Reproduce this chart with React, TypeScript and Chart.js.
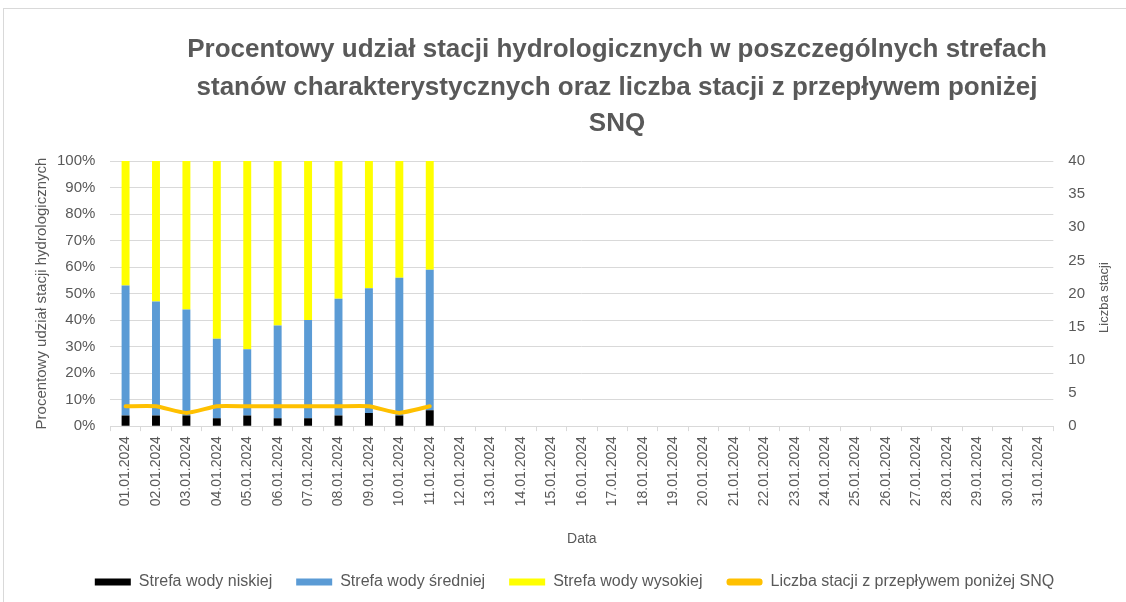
import React, { useEffect, useRef } from "react";
import { Chart, registerables } from "chart.js";

Chart.register(...registerables);

const titleLines = [
  "Procentowy udział stacji hydrologicznych w poszczególnych strefach",
  "stanów charakterystycznych oraz liczba stacji z przepływem poniżej",
  "SNQ",
];

const dates = [
  "01.01.2024", "02.01.2024", "03.01.2024", "04.01.2024", "05.01.2024",
  "06.01.2024", "07.01.2024", "08.01.2024", "09.01.2024", "10.01.2024",
  "11.01.2024", "12.01.2024", "13.01.2024", "14.01.2024", "15.01.2024",
  "16.01.2024", "17.01.2024", "18.01.2024", "19.01.2024", "20.01.2024",
  "21.01.2024", "22.01.2024", "23.01.2024", "24.01.2024", "25.01.2024",
  "26.01.2024", "27.01.2024", "28.01.2024", "29.01.2024", "30.01.2024",
  "31.01.2024",
];

// percentages (stacked)
const lowZone = [4, 4, 4, 3, 4, 3, 3, 4, 5, 4, 6];
const midZone = [49, 43, 40, 30, 25, 35, 37, 44, 47, 52, 53];
const highZone = [47, 53, 56, 67, 71, 62, 60, 52, 48, 44, 41];
// number of stations below SNQ
const belowSNQ = [3, 3, 2, 3, 3, 3, 3, 3, 3, 2, 3];

const TEXT = "#595959";
const GRID = "#d9d9d9";
const FONT = "'Liberation Sans', Arial, sans-serif";

const titlePlugin = {
  id: "customTexts",
  beforeDraw(chart: any) {
    // nudge the legend so it is centred like in the reference
    const lg = chart.legend;
    if (lg && !lg._shifted) {
      lg.left += 8;
      lg.right += 8;
      lg._shifted = true;
    }
  },
  afterDraw(chart: any) {
    const ctx = chart.ctx;
    ctx.save();
    ctx.fillStyle = TEXT;
    ctx.font = `bold 26px ${FONT}`;
    ctx.textAlign = "center";
    ctx.textBaseline = "middle";
    const ys = [50, 88, 124];
    titleLines.forEach((t, i) => ctx.fillText(t, 617, ys[i]));
    // right axis title, reading bottom-to-top
    const area = chart.chartArea;
    ctx.font = `13px ${FONT}`;
    ctx.translate(1104, (area.top + area.bottom) / 2 + 4);
    ctx.rotate(-Math.PI / 2);
    ctx.fillText("Liczba stacji", 0, 0);
    ctx.restore();
  },
};

export default function App() {
  const ref = useRef<HTMLCanvasElement>(null);
  useEffect(() => {
    if (!ref.current) return;
    const chart = new Chart(ref.current, {
      type: "bar",
      data: {
        labels: dates,
        datasets: [
          {
            label: "Strefa wody niskiej",
            data: lowZone,
            backgroundColor: "#000000",
            stack: "s",
            barPercentage: 0.9,
            categoryPercentage: 0.29,
            order: 1,
          },
          {
            label: "Strefa wody średniej",
            data: midZone,
            backgroundColor: "#5B9BD5",
            stack: "s",
            barPercentage: 0.9,
            categoryPercentage: 0.29,
            order: 1,
          },
          {
            label: "Strefa wody wysokiej",
            data: highZone,
            backgroundColor: "#FFFF00",
            stack: "s",
            barPercentage: 0.9,
            categoryPercentage: 0.29,
            order: 1,
          },
          {
            type: "line",
            label: "Liczba stacji z przepływem poniżej SNQ",
            data: belowSNQ,
            yAxisID: "y1",
            borderColor: "#FFC000",
            backgroundColor: "#FFC000",
            borderWidth: 4,
            pointRadius: 0,
            tension: 0.15,
            borderJoinStyle: "round",
            borderCapStyle: "round",
            order: 0,
          } as any,
        ],
      },
      options: {
        animation: false,
        responsive: false,
        maintainAspectRatio: false,
        layout: { padding: { top: 161, left: 33, right: 26, bottom: 2 } },
        plugins: {
          title: { display: false },
          tooltip: { enabled: false },
          legend: {
            position: "bottom",
            labels: {
              color: TEXT,
              font: { size: 16, family: FONT },
              boxWidth: 36,
              boxHeight: 7,
              padding: 24,
              useBorderRadius: true,
              sort: (a: any, b: any) => a.datasetIndex - b.datasetIndex,
              generateLabels: (c: any) => {
                const items = Chart.defaults.plugins.legend.labels.generateLabels(c);
                return items.map((it: any) => ({
                  ...it,
                  lineWidth: 0,
                  borderRadius: it.datasetIndex === 3 ? 3 : 0,
                }));
              },
            },
          },
        },
        scales: {
          x: {
            stacked: true,
            grid: {
              display: true,
              drawOnChartArea: false,
              drawTicks: true,
              tickLength: 5,
              color: GRID,
              offset: true,
            },
            border: { color: GRID },
            ticks: {
              color: TEXT,
              font: { size: 14, family: FONT },
              minRotation: 90,
              maxRotation: 90,
              autoSkip: false,
              padding: 5,
            },
            title: {
              display: true,
              text: "Data",
              color: TEXT,
              font: { size: 14, family: FONT },
              padding: { top: 20, bottom: 2 },
            },
          },
          y: {
            stacked: true,
            min: 0,
            max: 100,
            ticks: {
              stepSize: 10,
              color: TEXT,
              font: { size: 15, family: FONT },
              padding: 15,
              callback: (v: any) => v + "%",
            },
            grid: { color: GRID, drawTicks: false },
            border: { display: false },
            title: {
              display: true,
              text: "Procentowy udział stacji hydrologicznych",
              color: TEXT,
              font: { size: 15, family: FONT },
              padding: { top: 0, bottom: -9 },
            },
          },
          y1: {
            position: "right",
            min: 0,
            max: 40,
            ticks: {
              stepSize: 5,
              color: TEXT,
              font: { size: 15, family: FONT },
              padding: 15,
            },
            grid: { drawOnChartArea: false, drawTicks: false },
            border: { display: false },
            title: { display: false },
          },
        },
      } as any,
      plugins: [titlePlugin],
    });
    return () => chart.destroy();
  }, []);

  return (
    <div style={{ position: "absolute", left: 0, top: 0, width: 1126, height: 602, background: "#fff", overflow: "hidden" }}>
      <div style={{ position: "absolute", left: 3, top: 8, width: 1200, height: 700, border: `1px solid ${GRID}` }} />
      <canvas ref={ref} width={1126} height={602} style={{ position: "absolute", left: 0, top: 0, width: 1126, height: 602 }} />
    </div>
  );
}
